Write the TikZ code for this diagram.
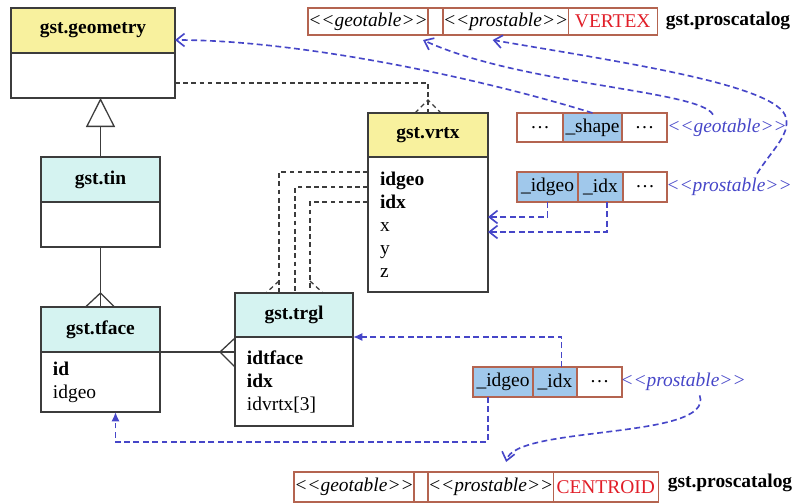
\documentclass[tikz,border=0pt]{standalone}
\usepackage{fontspec}
\setmainfont{Liberation Serif}
\usetikzlibrary{shapes.multipart, positioning, arrows.meta, calc}

\definecolor{geoyellow}{RGB}{248,241,158}
\definecolor{tincyan}{RGB}{213,243,241}
\definecolor{cellblue}{RGB}{160,200,235}
\definecolor{cellbrown}{RGB}{180,100,80}
\definecolor{flowblue}{RGB}{70,70,200}
\definecolor{catred}{RGB}{225,30,40}
\definecolor{boxgray}{RGB}{60,60,60}

\newcommand{\figfont}{\fontsize{16.6}{19.6}\selectfont}
\newcommand{\stereo}[1]{\textit{<{}<#1>{}>}}

\begin{document}
\begin{tikzpicture}[x=0.03cm, y=-0.03cm, line width=1.1pt, >=Latex]
\tikzset{
    classhead/.style={draw=boxgray, rectangle, minimum height=1.35cm, inner sep=0pt, outer sep=0pt, font=\figfont\bfseries, align=center},
    classbody/.style={draw=boxgray, rectangle, fill=white, inner xsep=0.36cm, inner ysep=0pt, outer sep=0pt, font=\figfont, align=left},
    cell/.style={draw=cellbrown, rectangle, fill=white, inner sep=0pt, outer sep=0pt, font=\figfont},
    keycell/.style={cell, fill=cellblue},
    catname/.style={font=\figfont\bfseries},
    flowlabel/.style={text=flowblue, font=\figfont\itshape},
    dep/.style={draw=boxgray, line width=1.1pt, dash pattern=on 4pt off 3pt},
    flow/.style={draw=flowblue, line width=1.4pt, dash pattern=on 5pt off 3pt},
    flowopen/.style={flow, -{Straight Barb[length=7pt,width=11pt]}},
    flowfill/.style={flow, -{Latex[length=8pt,width=7pt]}},
    assoc/.style={draw=boxgray}
}
\useasboundingbox (0,0) rectangle (803,503);

% class boxes
\node[classhead, fill=geoyellow, minimum width=4.92cm] (geomH) at (93,30.5) {gst.geometry};
\node[classbody, text width=4.2cm, minimum height=1.35cm, below=0pt of geomH] (geomB) {};
\node[classhead, fill=tincyan, minimum width=3.57cm] (tinH) at (100.5,179.5) {gst.tin};
\node[classbody, text width=2.85cm, minimum height=1.35cm, below=0pt of tinH] (tinB) {};
\node[classhead, fill=tincyan, minimum width=3.57cm] (tfaceH) at (100.5,329.5) {gst.tface};
\node[classbody, text width=2.85cm, minimum height=1.8cm, below=0pt of tfaceH] (tfaceB) {\textbf{id}\\idgeo};
\node[classhead, fill=tincyan, minimum width=3.54cm, minimum height=1.32cm] (trglH) at (294,315) {gst.trgl};
\node[classbody, text width=2.82cm, minimum height=2.67cm, below=0pt of trglH] (trglB) {\textbf{idtface}\\\textbf{idx}\\idvrtx[3]};
\node[classhead, fill=geoyellow, minimum width=3.6cm, minimum height=1.32cm] (vrtxH) at (428,135) {gst.vrtx};
\node[classbody, text width=2.88cm, minimum height=4.05cm, below=0pt of vrtxH] (vrtxB) {\textbf{idgeo}\\\textbf{idx}\\x\\y\\z};

% catalog rows
\node[cell, minimum width=3.6cm, minimum height=0.81cm] (catGeoT) at (368,21.5) {\stereo{geotable}};
\node[cell, minimum width=0.45cm, minimum height=0.81cm, right=0pt of catGeoT] (catBlankT) {};
\node[cell, minimum width=3.6cm, minimum height=0.81cm, right=0pt of catBlankT] (catProsT) {\stereo{prostable}};
\node[cell, minimum width=2.67cm, minimum height=0.81cm, right=0pt of catProsT, text=catred] (catVtx) {VERTEX};
\node[catname] (catNameT) at (728,21) {gst.proscatalog};

\node[cell, minimum width=1.38cm, minimum height=0.87cm] (dotsA) at (540,127.5) {\ldots};
\node[keycell, minimum width=1.77cm, minimum height=0.87cm, right=0pt of dotsA] (shapeC) {\_shape};
\node[cell, minimum width=1.35cm, minimum height=0.87cm, right=0pt of shapeC] (dotsB) {\ldots};
\node[flowlabel] (geoLbl) at (727,128) {<{}<geotable>{}>};

\node[keycell, minimum width=1.83cm, minimum height=0.9cm] (idgeoU) at (547.5,187) {\_idgeo};
\node[keycell, minimum width=1.35cm, minimum height=0.9cm, right=0pt of idgeoU] (idxU) {\_idx};
\node[cell, minimum width=1.32cm, minimum height=0.9cm, right=0pt of idxU] (dotsC) {\ldots};
\node[flowlabel] (prosLbl) at (729,187) {<{}<prostable>{}>};

\node[keycell, minimum width=1.8cm, minimum height=0.9cm] (idgeoL) at (503,382) {\_idgeo};
\node[keycell, minimum width=1.32cm, minimum height=0.9cm, right=0pt of idgeoL] (idxL) {\_idx};
\node[cell, minimum width=1.35cm, minimum height=0.9cm, right=0pt of idxL] (dotsD) {\ldots};
\node[flowlabel] (prosLblL) at (683,382) {<{}<prostable>{}>};

\node[cell, minimum width=3.6cm, minimum height=0.9cm] (catGeoB) at (354,487) {\stereo{geotable}};
\node[cell, minimum width=0.42cm, minimum height=0.9cm, right=0pt of catGeoB] (catBlankB) {};
\node[cell, minimum width=3.57cm, minimum height=0.9cm, right=0pt of catBlankB] (catProsB) {\stereo{prostable}};
\node[cell, minimum width=3.15cm, minimum height=0.9cm, right=0pt of catProsB, text=catred] (catCent) {CENTROID};
\node[catname] (catNameB) at (730,483) {gst.proscatalog};

% class relations
\draw[assoc, -{Triangle[open,length=0.87cm,width=0.87cm]}] (tinH.north) -- (tinH.north |- geomB.south);
\draw[assoc] (tinB.south) -- (tfaceH.north);
\draw[assoc] ([xshift=-0.45cm]tfaceH.north) -- ([yshift=0.42cm]tfaceH.north) -- ([xshift=0.42cm]tfaceH.north);
\coordinate (tjoin) at (tfaceH.south east -| trglB.west);
\draw[assoc] (tfaceH.south east) -- (tjoin);
\draw[assoc] ([yshift=0.42cm]tjoin) -- ([xshift=-0.45cm]tjoin) -- ([yshift=-0.45cm]tjoin);

\draw[dep] ([yshift=-0.225cm]geomB.east) -| (vrtxH.north);
\draw[dep] ([xshift=-0.39cm]vrtxH.north) -- ([yshift=0.39cm]vrtxH.north) -- ([xshift=0.39cm]vrtxH.north);
\draw[dep] ([yshift=1.575cm]vrtxB.west) -| ([xshift=-0.45cm]trglH.north);
\draw[dep] ([yshift=1.125cm]vrtxB.west) -| ([xshift=0.03cm]trglH.north);
\draw[dep] ([yshift=0.675cm]vrtxB.west) -| ([xshift=0.48cm]trglH.north);
\draw[dep] ([xshift=-0.45cm,yshift=0.36cm]trglH.north) -- ([xshift=-0.84cm]trglH.north);
\draw[dep] ([xshift=0.48cm,yshift=0.36cm]trglH.north) -- ([xshift=0.87cm]trglH.north);

% catalog mappings
\draw[flowopen] (shapeC.north) .. controls (480,78) and (300,40) .. ([yshift=-0.285cm]geomH.east);
\draw[flowopen] ([xshift=-0.42cm]geoLbl.north) .. controls (700,90) and (520,85) .. ([xshift=-0.15cm,yshift=-0.15cm]catGeoT.south east);
\draw[flowopen] ([xshift=0.84cm]prosLbl.north) .. controls (772,150) and (790,135) .. (786,118) .. controls (780,85) and (620,62) .. ([xshift=-0.39cm,yshift=-0.15cm]catProsT.south);
\draw[flowopen] (idgeoU.south) |- ([yshift=0.225cm]vrtxB.east);
\draw[flowopen] ([xshift=0.2cm]idxU.south) |- ([yshift=-0.225cm]vrtxB.east);

\draw[flowfill] ([xshift=0.2cm]idxL.north) |- (trglH.south east);
\draw[flowfill] ([xshift=-0.45cm]idgeoL.south) |- ([xshift=0.45cm,yshift=-0.9cm]tfaceB.south) -- ([xshift=0.45cm]tfaceB.south);
\draw[flowopen] ([xshift=0.5cm]prosLblL.south) .. controls (715,440) and (515,425) .. ([xshift=0.465cm,yshift=0.3cm]catProsB.north);
\end{tikzpicture}
\end{document}
